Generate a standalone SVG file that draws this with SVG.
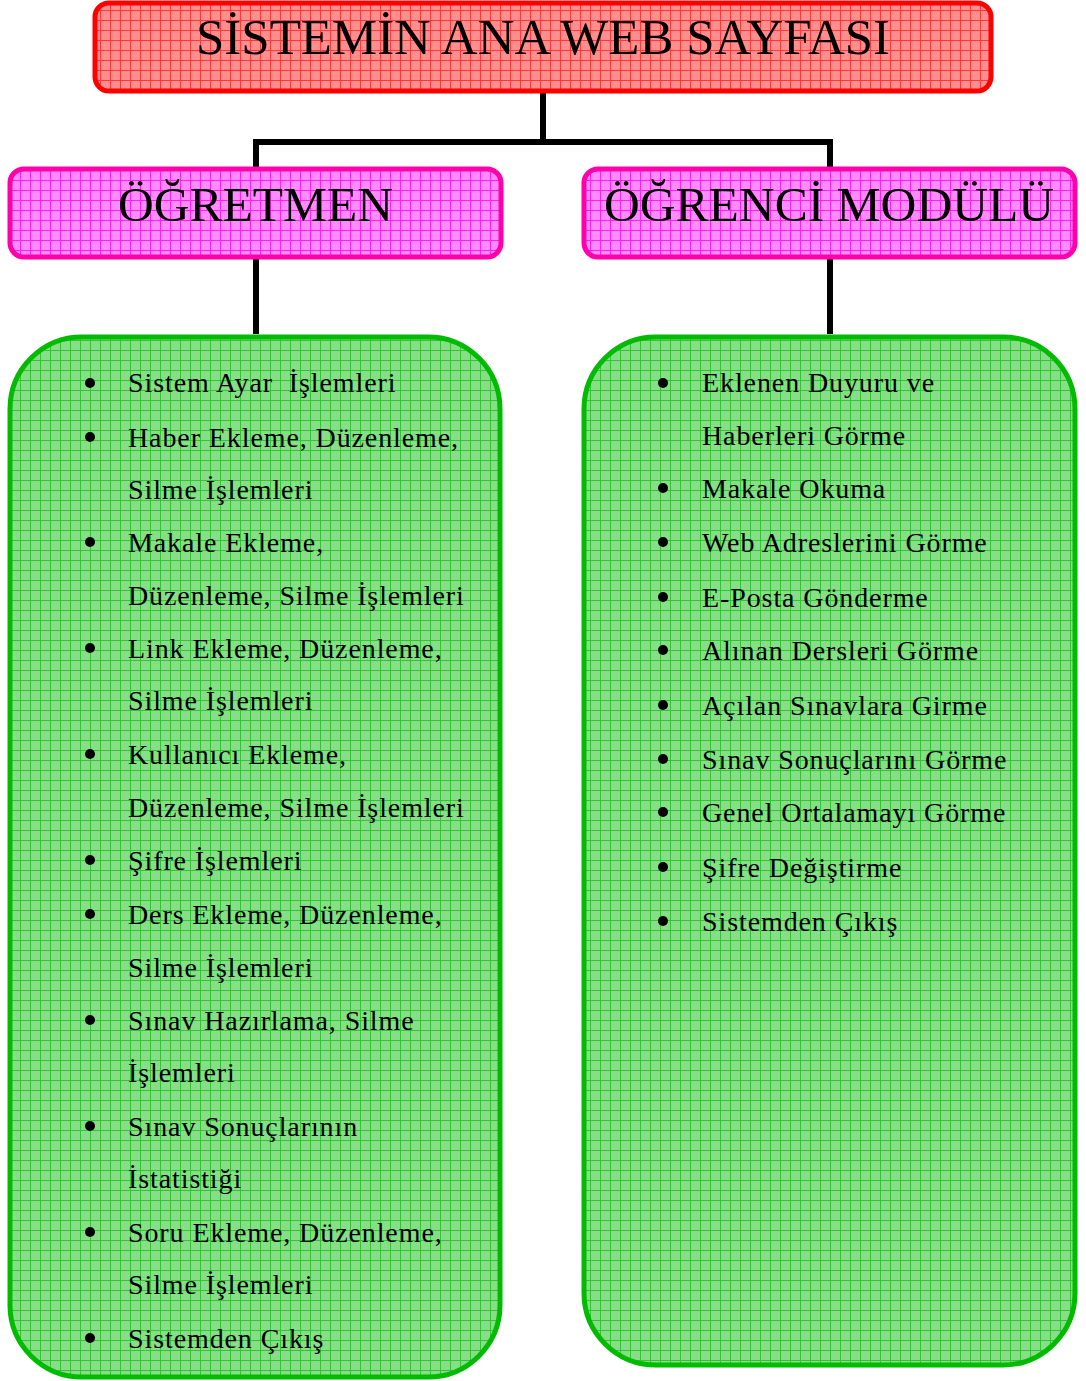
<svg xmlns="http://www.w3.org/2000/svg" width="1086" height="1381" viewBox="0 0 1086 1381">
<defs>
<pattern id="gridR" width="10" height="10" patternUnits="userSpaceOnUse">
<rect width="10" height="10" fill="#ff8f8f"/>
<path d="M0 0.5H10M0.5 0V10" stroke="#ff3a3a" stroke-width="1"/>
</pattern>
<pattern id="gridP" width="10" height="10" patternUnits="userSpaceOnUse">
<rect width="10" height="10" fill="#ff8cff"/>
<path d="M0 0.5H10M0.5 0V10" stroke="#ff22ee" stroke-width="1"/>
</pattern>
<pattern id="gridG" width="10" height="10" patternUnits="userSpaceOnUse">
<rect width="10" height="10" fill="#88dd88"/>
<path d="M0 0.5H10M0.5 0V10" stroke="#33c433" stroke-width="1"/>
</pattern>
</defs>
<style>
.t{font-family:"Liberation Serif","Times New Roman",serif;fill:#000}
.h{font-size:50px}
.m{font-size:48px}
.l{font-size:28px;letter-spacing:0.9px}
.conn{fill:none;stroke:#000;stroke-width:6}
</style>
<g id="connectors">
<path class="conn" d="M543 92V142M256 168V142H830V168"/>
<path class="conn" d="M256 258V334"/>
<path class="conn" d="M830 258V334"/>
</g>
<g id="root">
<rect x="95" y="3" width="896" height="88" rx="14" fill="url(#gridR)" stroke="#ff0000" stroke-width="5"/>
<text class="t h" x="543" y="54" text-anchor="middle" textLength="694" lengthAdjust="spacingAndGlyphs">SİSTEMİN ANA WEB SAYFASI</text>
</g>
<g id="teacher">
<rect x="10" y="169" width="491" height="88" rx="14" fill="url(#gridP)" stroke="#ff00aa" stroke-width="5"/>
<text class="t m" x="255.5" y="221" text-anchor="middle" textLength="275" lengthAdjust="spacingAndGlyphs">ÖĞRETMEN</text>
</g>
<g id="student">
<rect x="584" y="169" width="491" height="88" rx="14" fill="url(#gridP)" stroke="#ff00aa" stroke-width="5"/>
<text class="t m" x="829" y="221" text-anchor="middle" textLength="450" lengthAdjust="spacingAndGlyphs">ÖĞRENCİ MODÜLÜ</text>
</g>
<g id="teacher-list">
<rect x="10" y="337" width="490" height="1040" rx="72" fill="url(#gridG)" stroke="#00bb00" stroke-width="5"/>
<g fill="#000">
<circle cx="90" cy="383" r="5"/><circle cx="90" cy="437" r="5"/><circle cx="90" cy="542" r="5"/><circle cx="90" cy="648" r="5"/><circle cx="90" cy="754" r="5"/><circle cx="90" cy="860" r="5"/><circle cx="90" cy="914" r="5"/><circle cx="90" cy="1020" r="5"/><circle cx="90" cy="1126" r="5"/><circle cx="90" cy="1232" r="5"/><circle cx="90" cy="1338" r="5"/>
</g>
<g class="t l">
<text x="128" y="392" xml:space="preserve">Sistem Ayar  İşlemleri</text>
<text x="128" y="447">Haber Ekleme, Düzenleme,</text>
<text x="128" y="499">Silme İşlemleri</text>
<text x="128" y="552">Makale Ekleme,</text>
<text x="128" y="605">Düzenleme, Silme İşlemleri</text>
<text x="128" y="658">Link Ekleme, Düzenleme,</text>
<text x="128" y="710">Silme İşlemleri</text>
<text x="128" y="764">Kullanıcı Ekleme,</text>
<text x="128" y="817">Düzenleme, Silme İşlemleri</text>
<text x="128" y="870">Şifre İşlemleri</text>
<text x="128" y="924">Ders Ekleme, Düzenleme,</text>
<text x="128" y="977">Silme İşlemleri</text>
<text x="128" y="1030">Sınav Hazırlama, Silme</text>
<text x="128" y="1082">İşlemleri</text>
<text x="128" y="1136">Sınav Sonuçlarının</text>
<text x="128" y="1188">İstatistiği</text>
<text x="128" y="1242">Soru Ekleme, Düzenleme,</text>
<text x="128" y="1294">Silme İşlemleri</text>
<text x="128" y="1348">Sistemden Çıkış</text>
</g>
</g>
<g id="student-list">
<rect x="584" y="337" width="491" height="1028" rx="72" fill="url(#gridG)" stroke="#00bb00" stroke-width="5"/>
<g fill="#000">
<circle cx="663" cy="383" r="5"/><circle cx="663" cy="488" r="5"/><circle cx="663" cy="542" r="5"/><circle cx="663" cy="597" r="5"/><circle cx="663" cy="650" r="5"/><circle cx="663" cy="705" r="5"/><circle cx="663" cy="759" r="5"/><circle cx="663" cy="812" r="5"/><circle cx="663" cy="867" r="5"/><circle cx="663" cy="921" r="5"/>
</g>
<g class="t l">
<text x="702" y="392">Eklenen Duyuru ve</text>
<text x="702" y="445">Haberleri Görme</text>
<text x="702" y="498">Makale Okuma</text>
<text x="702" y="552">Web Adreslerini Görme</text>
<text x="702" y="607">E-Posta Gönderme</text>
<text x="702" y="660">Alınan Dersleri Görme</text>
<text x="702" y="715">Açılan Sınavlara Girme</text>
<text x="702" y="769">Sınav Sonuçlarını Görme</text>
<text x="702" y="822">Genel Ortalamayı Görme</text>
<text x="702" y="877">Şifre Değiştirme</text>
<text x="702" y="931">Sistemden Çıkış</text>
</g>
</g>
</svg>
